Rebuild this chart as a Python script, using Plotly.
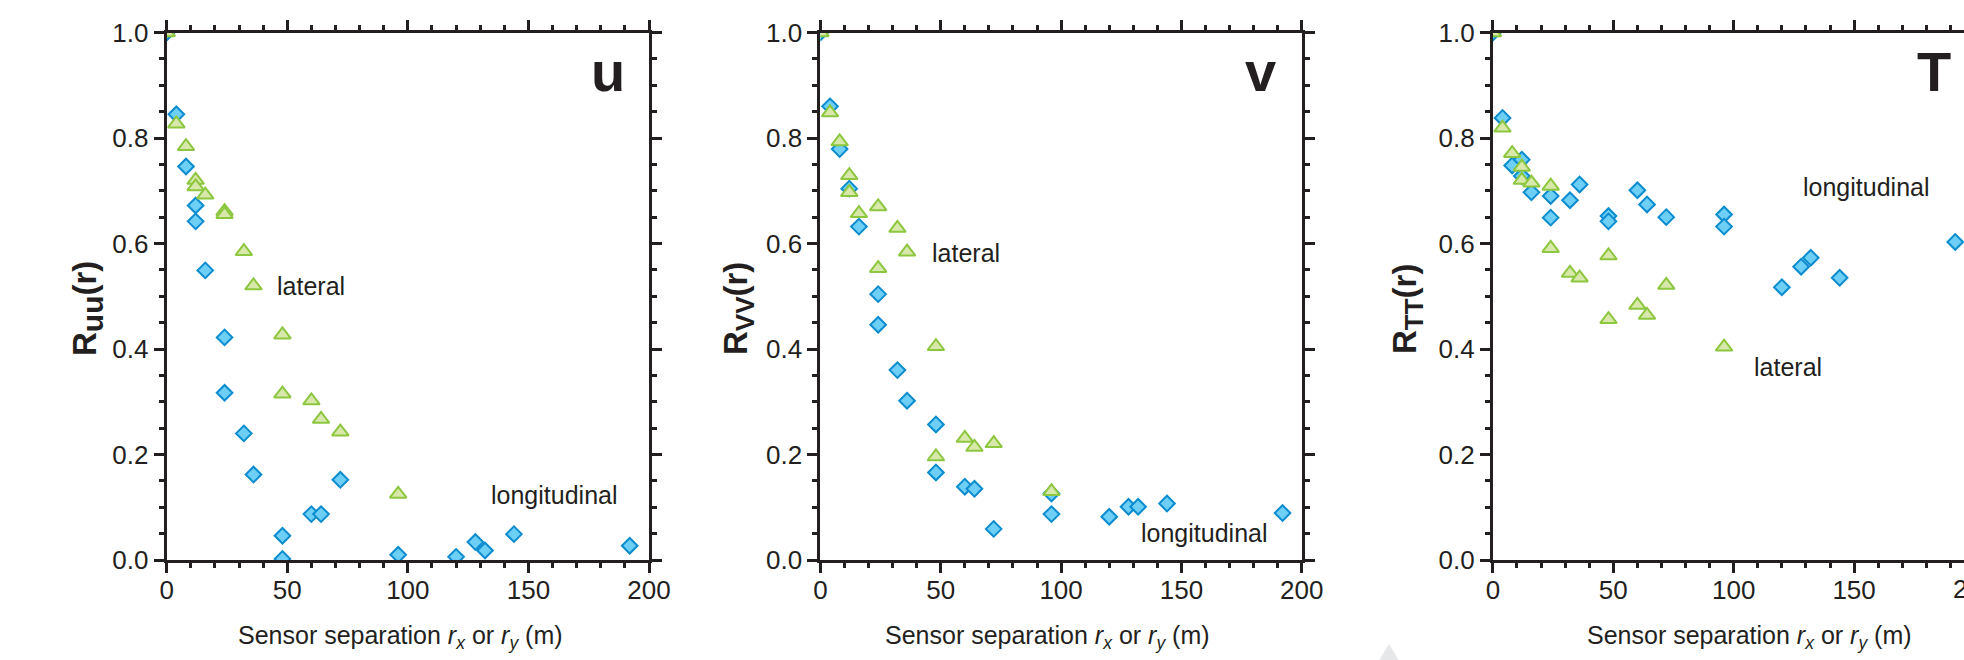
import plotly.graph_objects as go

W, H = 1964, 660

# ---------------- data ----------------
u_long_r = [0, 4, 8, 12, 12, 16, 24, 24, 32, 36, 48, 48, 60, 64, 72, 96, 120, 128, 132, 144, 192]
u_long_R = [1.0, 0.845, 0.746, 0.672, 0.642, 0.549, 0.422, 0.317, 0.240, 0.162, 0.046, 0.002, 0.087, 0.087, 0.152, 0.010, 0.006, 0.034, 0.018, 0.049, 0.027]
u_lat_r = [0, 4, 8, 12, 12, 16, 24, 24, 32, 36, 48, 48, 60, 64, 72, 96]
u_lat_R = [1.0, 0.827, 0.784, 0.720, 0.708, 0.692, 0.661, 0.655, 0.585, 0.520, 0.427, 0.315, 0.302, 0.267, 0.243, 0.125]

v_long_r = [0, 4, 8, 12, 16, 24, 24, 32, 36, 48, 48, 60, 64, 72, 96, 96, 120, 128, 132, 144, 192]
v_long_R = [1.0, 0.860, 0.779, 0.704, 0.632, 0.504, 0.446, 0.360, 0.302, 0.257, 0.166, 0.139, 0.135, 0.059, 0.126, 0.087, 0.082, 0.101, 0.101, 0.107, 0.089]
v_lat_r = [0, 4, 8, 12, 12, 16, 24, 24, 32, 36, 48, 48, 60, 64, 72, 96]
v_lat_R = [1.0, 0.848, 0.793, 0.729, 0.697, 0.657, 0.670, 0.553, 0.629, 0.584, 0.405, 0.196, 0.231, 0.214, 0.221, 0.130]

T_long_r = [0, 4, 8, 12, 12, 16, 24, 24, 32, 36, 48, 48, 60, 64, 72, 96, 96, 120, 128, 132, 144, 192]
T_long_R = [1.0, 0.838, 0.748, 0.759, 0.728, 0.697, 0.690, 0.649, 0.682, 0.712, 0.652, 0.642, 0.701, 0.674, 0.650, 0.655, 0.632, 0.517, 0.556, 0.573, 0.535, 0.603]
T_lat_r = [0, 4, 8, 12, 12, 16, 24, 24, 32, 36, 48, 48, 60, 64, 72, 96]
T_lat_R = [1.0, 0.819, 0.771, 0.745, 0.720, 0.715, 0.709, 0.591, 0.544, 0.535, 0.577, 0.456, 0.483, 0.464, 0.521, 0.404]

panel_names = ["u", "v", "T"]
ytitles = ["<b>R<sub><span style='font-size:30px'>uu</span></sub>(r)</b>",
           "<b>R<sub><span style='font-size:26px'>VV</span></sub>(r)</b>",
           "<b>R<sub><span style='font-size:26px'>TT</span></sub>(r)</b>"]
xtitle = "Sensor separation <i>r<sub>x</sub></i> or <i>r<sub>y</sub></i> (m)"
xticks = [0, 50, 100, 150, 200]
yticks = [0.0, 0.2, 0.4, 0.6, 0.8, 1.0]
ytick_text = ["0.0", "0.2", "0.4", "0.6", "0.8", "1.0"]

# label positions (data coords): lateral, longitudinal
lat_pos = [(45.0, 0.52), (45.6, 0.582), (107.6, 0.366)]
long_pos = [(133.7, 0.123), (132.2, 0.051), (128.1, 0.707)]

# ---------------- style ----------------
INK = "#231f20"
BLUE_FILL, BLUE_LINE = "#6dcff6", "#0a8ccf"
GREEN_FILL, GREEN_LINE = "#d8e8ab", "#8dc63f"
FONT = "Liberation Sans, Arial, Helvetica, sans-serif"

# pixel geometry of plot areas and titles
xdom_px = [(166.7, 649.0), (820.4, 1301.8), (1492.9, 1964.0)]
xrange_max = [200, 200, (1964.0 - 1492.9) / 2.408]
ydom = [1 - 560 / H, 1 - 32.5 / H]
ytitle_x_px = [87, 738, 1407]
ytitle_y_px = 309
xtitle_x_px = [400, 1047, 1749]
xtitle_y_px = 637

fig = go.Figure()

series = [(u_long_r, u_long_R, u_lat_r, u_lat_R),
          (v_long_r, v_long_R, v_lat_r, v_lat_R),
          (T_long_r, T_long_R, T_lat_r, T_lat_R)]

for i, (lr, lR, tr, tR) in enumerate(series):
    xa = "x" if i == 0 else f"x{i+1}"
    ya = "y" if i == 0 else f"y{i+1}"
    fig.add_trace(go.Scatter(x=lr, y=lR, mode="markers", xaxis=xa, yaxis=ya,
                             marker=dict(symbol="diamond", size=12, color=BLUE_FILL,
                                         line=dict(color=BLUE_LINE, width=2)),
                             name="longitudinal", showlegend=False))
    fig.add_trace(go.Scatter(x=tr, y=tR, mode="markers", xaxis=xa, yaxis=ya,
                             marker=dict(symbol="triangle-up", size=14.5, color=GREEN_FILL,
                                         line=dict(color=GREEN_LINE, width=2)),
                             name="lateral", showlegend=False))

layout = dict(width=W, height=H, margin=dict(l=0, r=0, t=0, b=0, autoexpand=False),
              paper_bgcolor="white", plot_bgcolor="white",
              font=dict(family=FONT, color=INK), showlegend=False)

annotations = []
for i in range(3):
    sfx = "" if i == 0 else str(i + 1)
    x0, x1 = xdom_px[i]
    layout["xaxis" + sfx] = dict(
        domain=[x0 / W, x1 / W], range=[0, xrange_max[i]], anchor="y" + sfx,
        automargin=False,
        tickmode="array", tickvals=xticks, ticktext=[str(t) for t in xticks],
        ticks="outside", ticklen=10, tickwidth=3, tickcolor=INK,
        showline=True, linewidth=3, linecolor=INK, mirror="ticks",
        showgrid=False, zeroline=False, ticklabelstandoff=-5,
        minor=dict(dtick=10, ticks="outside", ticklen=5, tickwidth=2.5, tickcolor=INK, showgrid=False),
        tickfont=dict(size=26, color=INK, family=FONT),
    )
    layout["yaxis" + sfx] = dict(
        domain=ydom, range=[0, 1], anchor="x" + sfx,
        automargin=False,
        tickmode="array", tickvals=yticks, ticktext=ytick_text,
        ticks="outside", ticklen=10, tickwidth=3, tickcolor=INK,
        showline=True, linewidth=3, linecolor=INK, mirror=("ticks" if i < 2 else False),
        showgrid=False, zeroline=False,
        minor=dict(dtick=0.05, ticks="outside", ticklen=5, tickwidth=2.5, tickcolor=INK, showgrid=False),
        tickfont=dict(size=26, color=INK, family=FONT),
    )
    xr, yr = "x" + sfx, "y" + sfx
    # axis titles
    annotations.append(dict(x=ytitle_x_px[i] / W, y=1 - ytitle_y_px / H, xref="paper", yref="paper",
                            text=ytitles[i], textangle=-90, showarrow=False,
                            xanchor="center", yanchor="middle",
                            font=dict(size=33, color=INK, family=FONT)))
    annotations.append(dict(x=xtitle_x_px[i] / W, y=1 - xtitle_y_px / H, xref="paper", yref="paper",
                            text=xtitle, showarrow=False, xanchor="center", yanchor="middle",
                            font=dict(size=25, color=INK, family=FONT)))
    # panel letter and curve labels
    annotations.append(dict(x=183, y=0.927, xref=xr, yref=yr, text=f"<b>{panel_names[i]}</b>",
                            showarrow=False, xanchor="center", yanchor="middle",
                            font=dict(size=56, color=INK, family=FONT)))
    annotations.append(dict(x=lat_pos[i][0], y=lat_pos[i][1], xref=xr, yref=yr, text="lateral",
                            showarrow=False, xanchor="left", yanchor="middle",
                            font=dict(size=25, color=INK, family=FONT)))
    annotations.append(dict(x=long_pos[i][0], y=long_pos[i][1], xref=xr, yref=yr, text="longitudinal",
                            showarrow=False, xanchor="left", yanchor="middle",
                            font=dict(size=25, color=INK, family=FONT)))

# the '200' label of the third panel, cut off by the page edge
annotations.append(dict(x=1974 / W, y=1 - 589 / H, xref="paper", yref="paper", text="200",
                        showarrow=False, xanchor="center", yanchor="middle",
                        font=dict(size=26, color=INK, family=FONT)))
layout["annotations"] = annotations

# faint grey triangle decoration at bottom
px = [(1389, 644), (1360, 692), (1418, 692)]
path = "M " + " L ".join(f"{x / W:.5f},{1 - y / H:.5f}" for x, y in px) + " Z"
layout["shapes"] = [dict(type="path", xref="paper", yref="paper", path=path,
                         fillcolor="#e6e7e8", line=dict(width=0), layer="below")]

fig.update_layout(**layout)
fig.write_html("out.html")
